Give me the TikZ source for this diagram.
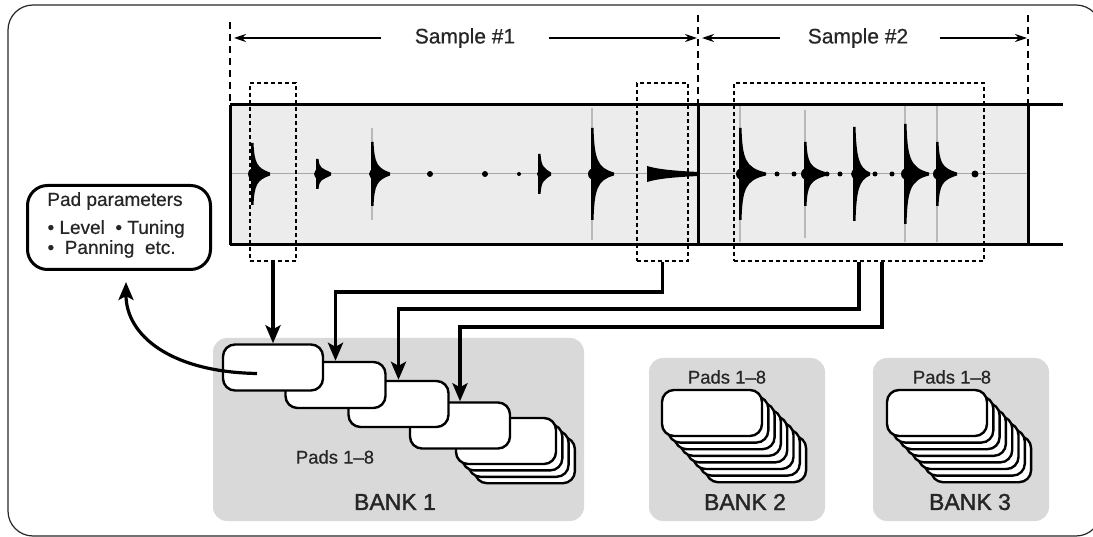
\documentclass[tikz,border=0pt]{standalone}
\usepackage{fontspec}
\setmainfont{Liberation Sans}
\newfontfamily\heavyfont[FakeBold=1.6,Ligatures=TeX]{Liberation Sans}
\newfontfamily\midfont[FakeBold=0.6,Ligatures=TeX]{Liberation Sans}
\usetikzlibrary{arrows.meta,positioning}

\definecolor{wavebg}{HTML}{ECECEC}
\definecolor{bankbg}{HTML}{D9D9D9}
\definecolor{inkgray}{HTML}{262626}

\tikzset{
    frame/.style={draw=inkgray, line width=1.2pt, rounded corners=25pt},
    pad/.style={draw, fill=white, line width=2.4pt, rounded corners=12pt,
                minimum width=100pt, minimum height=46pt, inner sep=0pt},
    bank/.style={fill=bankbg, rounded corners=14pt, inner sep=0pt},
    select/.style={draw, dashed, line width=1.3pt, dash pattern=on 4pt off 3pt,
                   inner sep=0pt},
    dimline/.style={draw, line width=1.2pt, dash pattern=on 7pt off 5pt},
    dimarrow/.style={-{Stealth[length=12pt,width=8pt]}, line width=1.4pt},
    bigarrow/.style={-{Stealth[length=18pt,width=15pt,inset=4pt]}, line width=3.8pt},
    padlabel/.style={text=inkgray, font=\midfont\fontsize{18.5}{21}\selectfont},
    banklabel/.style={text=inkgray, font=\heavyfont\fontsize{23}{27}\selectfont},
    samplelabel/.style={text=inkgray, font=\midfont\fontsize{21}{25}\selectfont},
    paramtext/.style={text=inkgray, font=\midfont\fontsize{19}{22}\selectfont}
}

\begin{document}
\begin{tikzpicture}[x=1pt, y=-1pt]
    \useasboundingbox (0,0) rectangle (1093,537);

    % Outer frame
    \draw[frame] (8,5) rectangle (1101,536);

    % Waveform strip
    \fill[wavebg] (230,105) rectangle (1028,245);
    \draw[gray!70, line width=1pt] (230,174) -- (1028,174);
    % faint tails
    \foreach \x/\f in {372/46, 592/66, 740/68, 805/64, 905/68, 937/68}
        \draw[gray!55, line width=1.2pt] (\x,174-\f) -- (\x,174+\f);
    % spikes
    \foreach \x/\a/\l in {252/31/18, 317/15/14, 372/32/18, 539/20/12, 592/46/22,
                          740/46/26, 805/32/22, 854/47/16, 905/50/24, 937/32/20}
        \fill[black] (\x-1,174-\a) -- (\x+1.5,174-\a)
            .. controls (\x+2.5,174-0.35*\a) and (\x+5,174-6) .. (\x+\l,174-1.5)
            -- (\x+\l,174+1.5)
            .. controls (\x+5,174+6) and (\x+2.5,174+0.35*\a) .. (\x+1.5,174+\a)
            -- (\x-1,174+\a) -- cycle;
    \foreach \x/\r in {252/6, 317/5, 372/5, 539/4, 592/6, 740/6, 805/6, 854/5, 905/6, 937/6,
                       428/3, 483/3, 517/2, 775/2.5, 792/2.5, 825/2.5, 838/2.5, 873/2.5,
                       890/2.5, 973/3.5}
        \fill[black] (\x+2,174) ellipse (\r pt and \r pt);
    \fill[black] (647,174-8) .. controls (660,174-4) and (680,174-3) .. (698,174-2)
        -- (698,174+2) .. controls (680,174+3) and (660,174+4) .. (647,174+8) -- cycle;

    % Strip outline
    \draw[line width=3pt] (230,105) -- (1063,105);
    \draw[line width=3pt] (230,245) -- (1063,245);
    \draw[line width=3pt] (230,105) -- (230,245);
    \draw[line width=3pt] (698,105) -- (698,245);
    \draw[line width=3pt] (1028,105) -- (1028,245);

    % Sample extents
    \coordinate (d0) at (230,38);
    \coordinate (d1) at (698,38);
    \coordinate (d2) at (1028,38);
    \draw[dimline] (230,22) -- (230,105);
    \draw[dimline] (698,15) -- (698,105);
    \draw[dimline] (1028,15) -- (1028,105);
    \node[samplelabel] (s1) at (465,38) {Sample \#1};
    \node[samplelabel] (s2) at (858,38) {Sample \#2};
    \draw[dimarrow, shorten >=4pt] ([xshift=-30pt]s1.west) -- (d0);
    \draw[dimarrow, shorten >=1pt] ([xshift=30pt]s1.east) -- (d1);
    \draw[dimarrow, shorten >=4pt] ([xshift=-24pt]s2.west) -- (d1);
    \draw[dimarrow, shorten >=1pt] ([xshift=28pt]s2.east) -- (d2);

    % Selections
    \node[select, minimum width=46pt, minimum height=178pt] (selA) at (273,172) {};
    \node[select, minimum width=51pt, minimum height=178pt] (selB) at (662.5,172) {};
    \node[select, minimum width=250pt, minimum height=178pt] (selC) at (859,172) {};

    % Banks
    \node[bank, minimum width=371pt, minimum height=183pt] (bank1) at (398.5,429.5) {};
    \node[bank, minimum width=176pt, minimum height=163pt] (bank2) at (737,439.5) {};
    \node[bank, minimum width=176pt, minimum height=163pt] (bank3) at (961,439.5) {};

    % Bank 1 pads
    \foreach \i in {3,2,1,0}
        \node[pad] (b1s\i) at (506+6.3*\i,441+6.4*\i) {};
    \node[pad] (p4) at (460,425.5) {};
    \node[pad] (p3) at (398.5,404) {};
    \node[pad] (p2) at (335.5,385) {};
    \node[pad] (p1) at (273,367.5) {};
    \node[padlabel] (pl1) at (335,457) {Pads 1–8};
    \node[banklabel] (bl1) at (395,502) {BANK 1};

    % Bank 2 and 3 pads
    \foreach \i in {7,6,...,0} {
        \node[pad] (b2p\i) at (712+6.3*\i,413+6.6*\i) {};
        \node[pad] (b3p\i) at (937+6.3*\i,413+6.6*\i) {};
    }
    \node[padlabel] (pl2) at (727,377) {Pads 1–8};
    \node[padlabel] (pl3) at (952,377) {Pads 1–8};
    \node[banklabel] (bl2) at (745,502) {BANK 2};
    \node[banklabel] (bl3) at (970,502) {BANK 3};

    % Assignments
    \draw[bigarrow] (selA.south) -- (p1.north);
    \draw[bigarrow] (selB.south) -- ++(0,30) -| (p2.north);
    \draw[bigarrow] (selC.south) -- ++(0,47) -| (p3.north);
    \draw[bigarrow] ([xshift=23pt]selC.south) -- ++(0,65) -| (p4.north);

    % Pad parameters
    \node[draw, line width=3pt, rounded corners=20pt, minimum width=183pt,
          minimum height=84pt, inner sep=0pt] (params) at (119,227.5) {};
    \node[paramtext] (ptitle) at (115,201) {Pad parameters};
    \node[paramtext, anchor=west] (pline1) at (44,229)
        {\textbullet\ Level\ \ \textbullet\ Tuning};
    \node[paramtext, anchor=west] (pline2) at (44,249)
        {\textbullet\ \ Panning\ \ etc.};
    \draw[bigarrow, line width=3.2pt] ([xshift=-16pt,yshift=-6pt]p1.center)
        .. controls (170,372) and (126,335) .. ([xshift=7pt,yshift=-11pt]params.south);
\end{tikzpicture}
\end{document}
